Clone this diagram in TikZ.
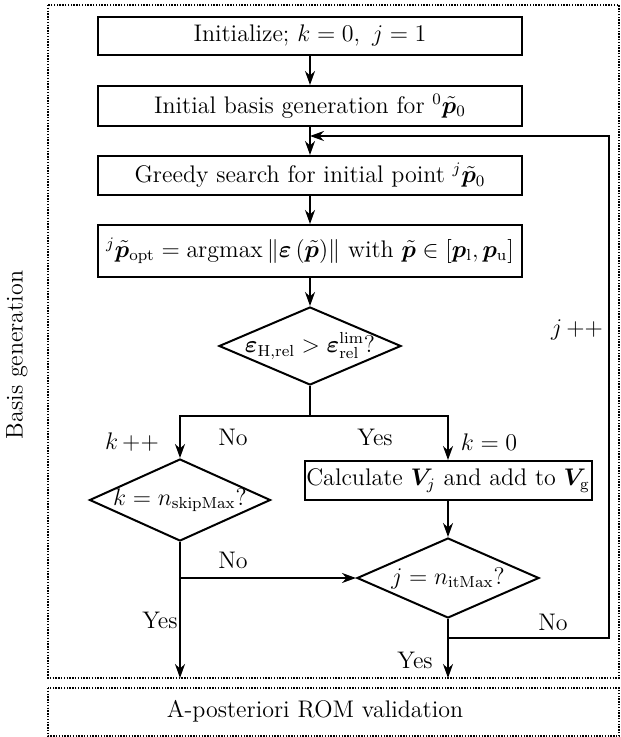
\documentclass[tikz,border=0pt]{standalone}
\usepackage{amsmath,amssymb,bm}
\usetikzlibrary{arrows.meta,shapes.geometric}
\begin{document}
\begin{tikzpicture}[x=0.5pt,y=-0.5pt,
  every node/.style={font=\fontsize{12}{14}\selectfont},
  procbox/.style={draw,line width=1pt,minimum width=212pt,inner sep=0pt,align=center},
  decbox/.style={draw,diamond,line width=1pt,inner sep=0pt,aspect=2},
  arr/.style={line width=1pt,-{Stealth[length=7pt,width=5pt]}},
  ln/.style={line width=1pt},
  frame/.style={line width=0.9pt,dash pattern=on 0.7pt off 0.7pt},
  lab/.style={inner sep=1pt}]
\useasboundingbox (0,0) rectangle (620,737);
% frames
\draw[frame] (48,5) rectangle (619,678);
\draw[frame] (48,688) rectangle (619,736);
\node[rotate=90] (bg) at (17,355) {Basis generation};
\node (val) at (315,711) {A-posteriori ROM validation};
\coordinate (ob) at (0,678);
% process boxes
\node[procbox,minimum height=19pt] (b1) at (310,36) {Initialize; $k=0,\ j=1$};
\node[procbox,minimum height=20pt] (b2) at (310,106) {Initial basis generation for ${}^{0}\tilde{\bm{p}}_{0}$};
\node[procbox,minimum height=19.5pt] (b3) at (310,175.5) {Greedy search for initial point ${}^{j}\tilde{\bm{p}}_{0}$};
\node[procbox,minimum height=26pt] (b4) at (310,251) {${}^{j}\tilde{\bm{p}}_{\mathrm{opt}}=\mathrm{argmax}\left\|\bm{\varepsilon}\left(\tilde{\bm{p}}\right)\right\|$ with $\tilde{\bm{p}}\in\left[\bm{p}_{\mathrm{l}},\bm{p}_{\mathrm{u}}\right]$};
\node[decbox,minimum width=91pt,minimum height=39pt] (d1) at (310,346) {\makebox[0pt]{$\bm{\varepsilon}_{\mathrm{H,rel}}>\bm{\varepsilon}_{\mathrm{rel}}^{\mathrm{lim}}$?}};
\coordinate (sp) at (310,416);
\node[decbox,minimum width=90.5pt,minimum height=41pt] (d2) at (180,500) {\makebox[0pt]{$k=n_{\mathrm{skipMax}}$?}};
\node[draw,line width=1pt,minimum width=143.5pt,minimum height=19.5pt,inner sep=0pt] (b5) at (448,480.5) {Calculate $\bm{V}_{j}$ and add to $\bm{V}_{\mathrm{g}}$};
\node[decbox,minimum width=91pt,minimum height=40pt] (d3) at (448,578) {\makebox[0pt]{$j=n_{\mathrm{itMax}}$?}};
% connectors
\draw[arr] (b1) -- (b2);
\draw[arr] (b2) -- (b3);
\draw[arr] (b3) -- (b4);
\draw[arr] (b4) -- (d1);
\draw[ln] (d1.south) -- (sp);
\draw[arr] (sp) -| (d2.north);
\draw[arr] (sp) -| (b5.north);
\draw[arr] (b5) -- (d3);
\draw[arr] (d2.south) -- (d2.south |- ob);
\draw[arr] (d2.south |- d3.west) -- (d3.west);
\draw[arr] (d3.south) -- (d3.south |- ob);
\coordinate (br) at (448,638);
\coordinate (rt1) at (609,638);
\coordinate (rt2) at (609,136);
\coordinate (fb) at (310,136);
\draw[arr] (br) -- (rt1) -- (rt2) -- (fb);
% labels
\node[lab] (l1) at (132,442) {$k\,{+}{+}$};
\node[lab] (l2) at (233,437) {No};
\node[lab] (l3) at (375,437) {Yes};
\node[lab] (l4) at (489,442) {$k=0$};
\node[lab] (l5) at (233,560) {No};
\node[lab] (l6) at (160,620) {Yes};
\node[lab] (l7) at (415,660) {Yes};
\node[lab] (l8) at (553,622) {No};
\node[lab] (l9) at (577,330) {$j\,{+}{+}$};
\end{tikzpicture}
\end{document}
